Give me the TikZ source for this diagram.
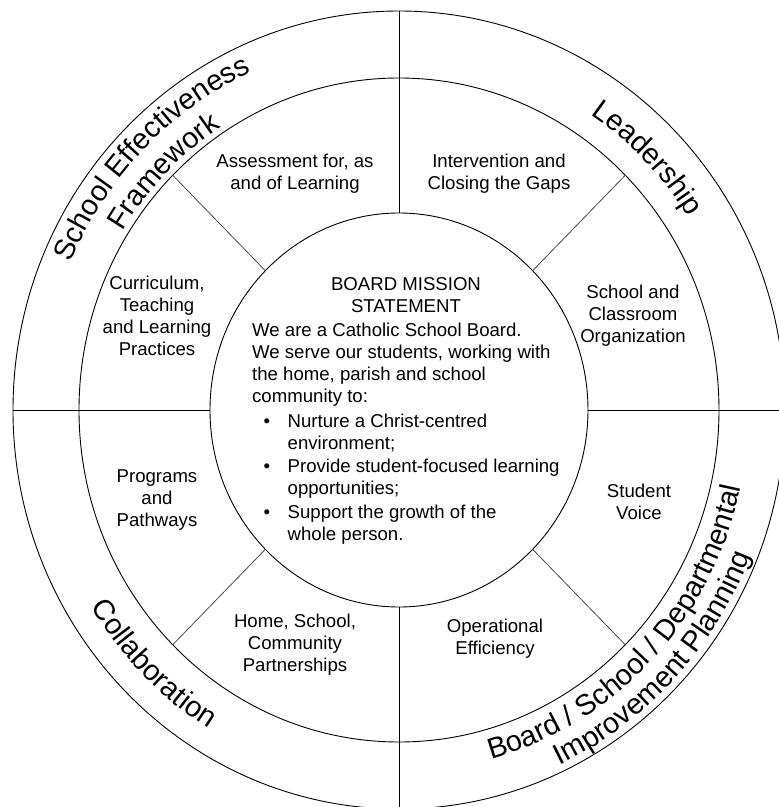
\documentclass[tikz,border=0pt]{standalone}
\usepackage{fontspec}
\setmainfont{Liberation Sans}
\usetikzlibrary{decorations.text}
\newcommand\innerfnt{\fontsize{18.6}{22.3}\selectfont}
\newcommand\outerfnt{\fontsize{29}{34}\selectfont}
\newcommand\mlines[1]{\begin{tabular}[t]{@{}c@{}}#1\end{tabular}}
\begin{document}
\begin{tikzpicture}[x=1pt,y=1pt,
  ring/.style={draw=black, line width=0.9pt},
  axisline/.style={draw=black, line width=0.9pt},
  spoke/.style={draw=black!70, line width=0.8pt},
  lbl/.style={font=\innerfnt, inner sep=0pt, anchor=base},
  arctext/.style={decorate, decoration={text along path, text align=center, text={|\outerfnt|#1}}},
]
\fill[white] (-399,-397) rectangle (380,410);
\path[use as bounding box] (-399,-397) rectangle (380,410);
\clip (-399,-397) rectangle (380,410);

% rings
\draw[ring] (0,0) ellipse[x radius=386, y radius=399];
\draw[ring] (0,0) ellipse[x radius=320, y radius=332];
\draw[ring] (0,0) ellipse[x radius=189, y radius=197];

% axis lines
\coordinate (inT) at (0,197);   \coordinate (outT) at (0,399);
\coordinate (inB) at (0,-197);  \coordinate (outB) at (0,-399);
\coordinate (inL) at (-189,0);  \coordinate (outL) at (-386,0);
\coordinate (inR) at (189,0);   \coordinate (outR) at (386,0);
\draw[axisline] (inT) -- (outT);
\draw[axisline] (inB) -- (outB);
\draw[axisline] (inL) -- (outL);
\draw[axisline] (inR) -- (outR);

% diagonal spokes in the middle ring
\foreach \a in {45,135,225,315} {
  \coordinate (sin\a) at (\a:189 and 197);
  \coordinate (sout\a) at (\a:320 and 332);
  \draw[spoke] (sin\a) -- (sout\a);
}

% middle ring labels
\node[lbl] (assess) at (-104,243) {\mlines{Assessment for, as\\and of Learning}};
\node[lbl] (interv) at (100,243) {\mlines{Intervention and\\Closing the Gaps}};
\node[lbl] (school) at (234,112) {\mlines{School and\\Classroom\\Organization}};
\node[lbl] (curric) at (-242,121) {\mlines{Curriculum,\\Teaching\\and Learning\\Practices}};
\node[lbl] (progs) at (-242,-72) {\mlines{Programs\\and\\Pathways}};
\node[lbl] (home) at (-104,-217) {\mlines{Home, School,\\Community\\Partnerships}};
\node[lbl] (voice) at (240,-87) {\mlines{Student\\Voice}};
\node[lbl] (oper) at (96,-222) {\mlines{Operational\\Efficiency}};

% mission statement
\node[lbl] (mhead) at (7,120) {\mlines{BOARD MISSION\\STATEMENT}};
\node[lbl, anchor=base west] (mbody) at (-147,74) {\begin{tabular}[t]{@{}l@{}}We are a Catholic School Board.\\We serve our students, working with\\the home, parish and school\\community to:\end{tabular}};
\node[lbl, anchor=base west] (mlist) at (-135.5,-17) {\begin{tabular}[t]{@{}p{24pt}@{}l@{}}\textbullet & Nurture a Christ-centred\\ & environment;\\[0.8pt]\textbullet & Provide student-focused learning\\ & opportunities;\\[1.5pt]\textbullet & Support the growth of the\\ & whole person.\end{tabular}};

% outer ring curved labels
\path[arctext={School Effectiveness}] (185:358 and 370.5) arc[start angle=185, end angle=85, x radius=358, y radius=370.5];
\path[arctext={Framework}] (185:326 and 337.4) arc[start angle=185, end angle=85, x radius=326, y radius=337.4];
\path[arctext={Leadership}] (95:344 and 356) arc[start angle=95, end angle=-5, x radius=344, y radius=356];
\path[arctext={Collaboration}] (175.5:362 and 374.7) arc[start angle=175.5, end angle=275.5, x radius=362, y radius=374.7];
\path[arctext={Board / School / Departmental}] (256:350 and 362.3) arc[start angle=256, end angle=376, x radius=350, y radius=362.3];
\path[arctext={Improvement Planning}] (256:379 and 392.3) arc[start angle=256, end angle=376, x radius=379, y radius=392.3];
\end{tikzpicture}
\end{document}
